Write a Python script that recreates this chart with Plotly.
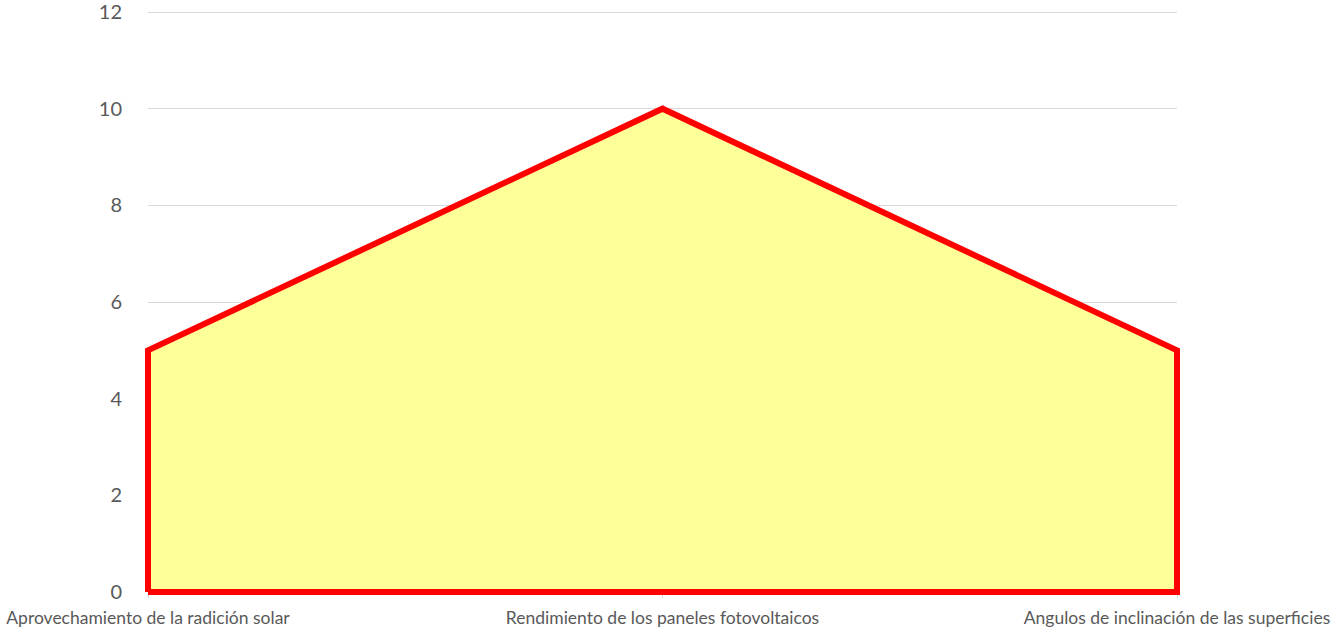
import plotly.graph_objects as go

categories = ["Aprovechamiento de la radición solar",
              "Rendimiento de los paneles fotovoltaicos",
              "Angulos de inclinación de las superficies"]
values = [5, 10, 5]
y_ticks = [0, 2, 4, 6, 8, 10, 12]
y_max = 12

# layout geometry (pixels)
W, H = 1333, 630
ML, MR, MT, MB = 138, 146, 7, 33
PAD_X, PAD_Y = 10, 5
plot_w = W - ML - MR
plot_h = H - MT - MB
inner_w = plot_w - 2 * PAD_X
inner_h = plot_h - 2 * PAD_Y
dx = PAD_X / inner_w * (len(categories) - 1)
dy = PAD_Y / inner_h * y_max

# outline polygon built from the data (closed along the baseline)
poly_x = [categories[0]] + categories + [categories[-1], categories[0]]
poly_y = [0] + values + [0, 0]

fig = go.Figure()
# invisible trace on the main (grid) axes
fig.add_trace(go.Scatter(x=categories, y=values, mode="none",
                         hoverinfo="skip", showlegend=False,
                         xaxis="x", yaxis="y"))
fig.add_trace(go.Scatter(
    x=categories, y=values, mode="none", fill="tozeroy",
    fillcolor="#FFFF99", hoverinfo="skip", showlegend=False,
    xaxis="x2", yaxis="y2"))
fig.add_trace(go.Scatter(
    x=poly_x, y=poly_y, mode="lines",
    line=dict(color="#FF0000", width=6),
    hoverinfo="skip", showlegend=False,
    xaxis="x2", yaxis="y2"))

font_family = "Lato"
fig.update_layout(
    width=W, height=H,
    margin=dict(l=ML, r=MR, t=MT, b=MB, autoexpand=False),
    paper_bgcolor="white", plot_bgcolor="rgba(0,0,0,0)",
    font=dict(family=font_family, color="#595959"),
    xaxis=dict(type="category", range=[0, len(categories) - 1],
               domain=[PAD_X / plot_w, 1 - PAD_X / plot_w],
               anchor="free", position=PAD_Y / plot_h,
               showgrid=False, zeroline=False, automargin=False,
               showline=True, linecolor="#D9D9D9", linewidth=2,
               ticks="outside", ticklen=5, tickcolor="#D9D9D9",
               ticklabelstandoff=5, layer="above traces",
               tickfont=dict(size=17.5, color="#595959")),
    yaxis=dict(range=[-dy, y_max + dy], tickvals=y_ticks,
               domain=[0, 1], anchor="x", automargin=False,
               showgrid=True, gridcolor="#D9D9D9",
               gridwidth=1, zeroline=False, showline=False, ticks="",
               ticklabelstandoff=25, ticklabeloverflow="allow",
               tickfont=dict(size=20, color="#595959")),
    xaxis2=dict(type="category",
                range=[-dx, len(categories) - 1 + dx],
                domain=[0, 1], anchor="y2", visible=False,
                automargin=False),
    yaxis2=dict(range=[-dy, y_max + dy], domain=[0, 1], anchor="x2",
                visible=False, automargin=False),
)
fig.write_html("out.html")
